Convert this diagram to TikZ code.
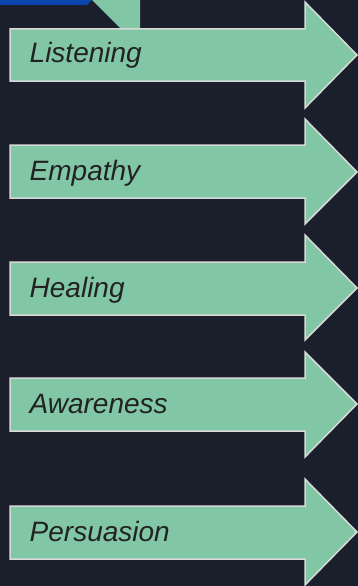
\documentclass[tikz,border=0pt]{standalone}
\usepackage{fontspec}
\setmainfont{Liberation Sans}
\usepackage{tikz}
\definecolor{cbg}{HTML}{1B1F2B}
\definecolor{carr}{HTML}{82C7A5}
\definecolor{cedge}{HTML}{D8D8D8}
\definecolor{cblue}{HTML}{0A45AE}
\definecolor{ctext}{HTML}{222222}
\tikzset{
    arr/.style={fill=carr, draw=cedge, line width=1.5pt, line join=miter},
    lbl/.style={anchor=base west, inner sep=0pt, text=ctext, font=\fontsize{28}{32}\selectfont\itshape}
}

\begin{document}
\begin{tikzpicture}[x=1pt, y=-1pt]
    \fill[cbg](0, 0)rectangle(358, 586);
    \useasboundingbox(0, 0)rectangle(358, 586);
    \fill[cblue](0, 0)--(92, 0)--(87, 5)--(0, 5)--cycle;
    \fill[carr](92, 0)--(140, 0)--(140, 29)--(121, 29)--cycle;
    \draw[arr](10, 29)--(305, 29)--(305, 2)--(357, 55)--(305, 108)--(305, 81)--(10, 81)--cycle;
    \node[lbl](listening) at(29.5, 63){Listening};
    \draw[arr](10, 145)--(305, 145)--(305, 119)--(357, 172)--(305, 224)--(305, 198)--(10, 198)--cycle;
    \node[lbl](empathy) at(29.5, 180.5){Empathy};
    \draw[arr](10, 262)--(305, 262)--(305, 235)--(357, 288)--(305, 340)--(305, 315)--(10, 315)--cycle;
    \node[lbl](healing) at(29.5, 297){Healing};
    \draw[arr](10, 378)--(305, 378)--(305, 352)--(357, 404)--(305, 457)--(305, 431)--(10, 431)--cycle;
    \node[lbl](awareness) at(29.5, 413){Awareness};
    \draw[arr](10, 506)--(305, 506)--(305, 479)--(357, 532)--(305, 585)--(305, 559)--(10, 559)--cycle;
    \node[lbl](persuasion) at(29.5, 541){Persuasion};
\end{tikzpicture}
\end{document}
